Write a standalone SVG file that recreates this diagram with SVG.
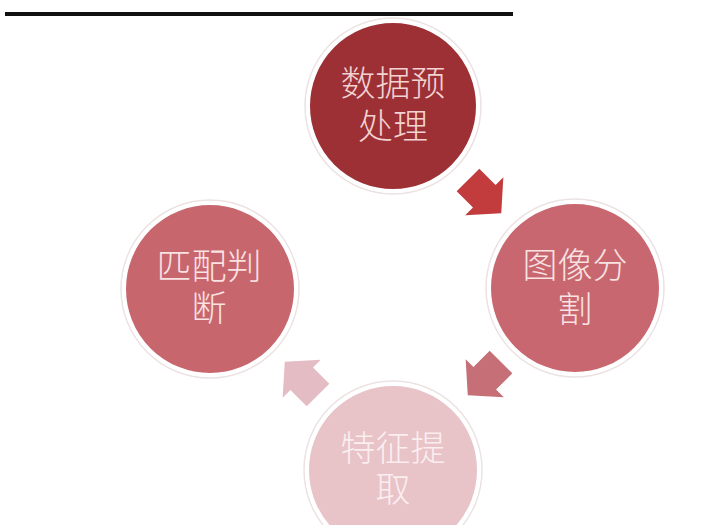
<svg xmlns="http://www.w3.org/2000/svg" width="724" height="525" viewBox="0 0 724 525">
  <defs>
    <style>
      .ring { stroke: #ffffff; stroke-width: 4; }
      .halo { fill: none; stroke: #ece2e2; stroke-width: 1.5; }
      .lbl { font-family: "Noto Sans CJK SC", "Noto Sans", sans-serif; font-size: 35px; font-weight: 300; text-anchor: middle; }
    </style>
    <path id="arrow" d="M0,-16 L23,-16 L23,-27 L47,0 L23,27 L23,16 L0,16 Z"/>
  </defs>
  <rect width="724" height="525" fill="#ffffff"/>
  <rect x="5" y="12" width="508" height="4" fill="#111111"/>

  <g id="connectors">
    <use href="#arrow" fill="#c23c3d" transform="translate(468,180) rotate(45)"/>
    <use href="#arrow" fill="#c66f77" transform="translate(501,362) rotate(135)"/>
    <use href="#arrow" fill="#e4bcc3" transform="translate(318,395) rotate(225)"/>
  </g>

  <g id="node-preprocess">
    <circle class="halo" cx="393" cy="106" r="88"/>
    <circle class="ring" cx="393" cy="106" r="85" fill="#9d3035"/>
    <text class="lbl" fill="#f2d3d2"><tspan x="393" y="96">数据预</tspan><tspan x="393" y="139">处理</tspan></text>
  </g>

  <g id="node-segment">
    <circle class="halo" cx="575" cy="288" r="89"/>
    <circle class="ring" cx="575" cy="288" r="86" fill="#c8676f"/>
    <text class="lbl" fill="#f8e2e2"><tspan x="575" y="278">图像分</tspan><tspan x="575" y="322">割</tspan></text>
  </g>

  <g id="node-feature">
    <circle class="halo" cx="393" cy="470" r="89"/>
    <circle class="ring" cx="393" cy="470" r="86" fill="#e8c3c8"/>
    <text class="lbl" fill="#fbeef0"><tspan x="393" y="461">特征提</tspan><tspan x="393" y="502">取</tspan></text>
  </g>

  <g id="node-match">
    <circle class="halo" cx="210" cy="289" r="89"/>
    <circle class="ring" cx="210" cy="289" r="86" fill="#c8666e"/>
    <text class="lbl" fill="#f8e2e2"><tspan x="209" y="279">匹配判</tspan><tspan x="209" y="321">断</tspan></text>
  </g>
</svg>
